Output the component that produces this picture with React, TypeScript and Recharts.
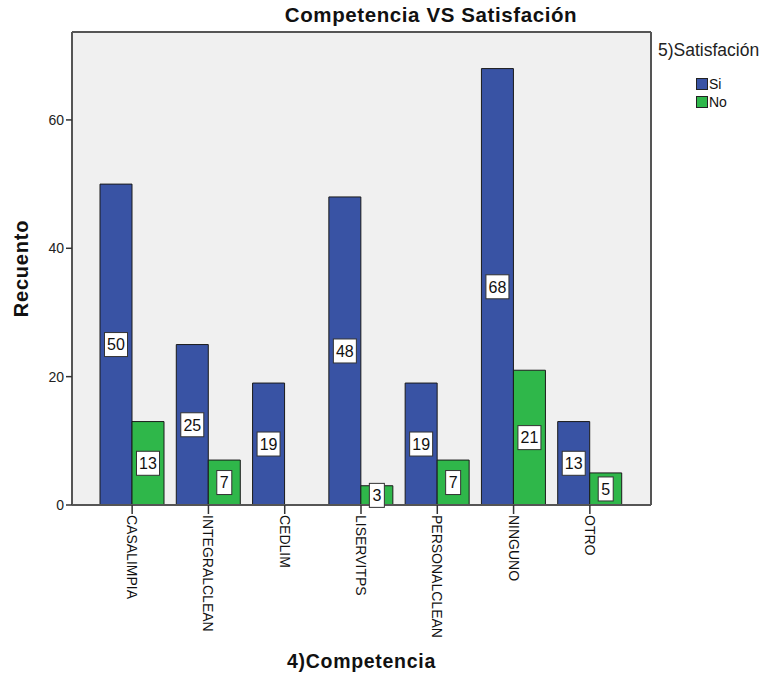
import React from "react";
import { BarChart, Bar, XAxis, YAxis, CartesianGrid, LabelList } from "recharts";

const categories = ["CASALIMPIA", "INTEGRALCLEAN", "CEDLIM", "LISERVITPS", "PERSONALCLEAN", "NINGUNO", "OTRO"];
const siValues = [50, 25, 19, 48, 19, 68, 13];
const noValues = [13, 7, 0, 3, 7, 21, 5];
const yTicks = [0, 20, 40, 60];

const data = categories.map((name, i) => ({
  name,
  si: siValues[i],
  no: noValues[i] > 0 ? noValues[i] : null,
}));

const BLUE = "#3953A4";
const GREEN = "#2FB74A";
const FONT = 'Arial, "Liberation Sans", sans-serif';

// white boxed count label in the middle of each bar
function ValueBox(props: any) {
  const { x, y, width, height, value } = props;
  if (value == null) return null;
  const text = String(value);
  const w = text.length > 1 ? 23 : 15;
  const h = 24;
  const cx = x + width / 2;
  const cy = y + height / 2;
  return (
    <g>
      <rect x={cx - w / 2} y={cy - h / 2} width={w} height={h} fill="#fff" stroke="#333" strokeWidth={1} />
      <text x={cx} y={cy} dy="0.36em" textAnchor="middle" fontSize={16} fontFamily={FONT} fill="#111">
        {text}
      </text>
    </g>
  );
}

function CategoryTick(props: any) {
  const { x, y, payload } = props;
  return (
    <g transform={`translate(${x},${y})`}>
      <text transform="rotate(90)" x={0} y={0} dy="0.36em" textAnchor="start" fontSize={14} fontFamily={FONT} fill="#111">
        {payload.value}
      </text>
    </g>
  );
}

function YLabel(props: any) {
  const { viewBox } = props;
  const cy = viewBox.y + viewBox.height / 2;
  return (
    <text x={21} y={cy} transform={`rotate(-90, 21, ${cy})`} dy="0.36em" textAnchor="middle" fontSize={20} fontWeight={700} fontFamily={FONT} fill="#111" letterSpacing={0.8}>
      Recuento
    </text>
  );
}

export default function App() {
  return (
    <div style={{ position: "absolute", left: 0, top: 0, width: 768, height: 679, background: "#fff", fontFamily: FONT }}>
      <div style={{ position: "absolute", left: 0, width: 862, top: 3, textAlign: "center", fontSize: 20.5, fontWeight: 700, color: "#111", letterSpacing: 0.6 }}>
        Competencia VS Satisfación
      </div>

      <BarChart
        width={768}
        height={679}
        data={data}
        margin={{ top: 32, right: 117, left: 12, bottom: 4 }}
        barGap={0}
        barSize={32}
      >
        <CartesianGrid
          fill="#F0F0F0"
          stroke="#555"
          strokeWidth={2}
          horizontalPoints={[32]}
          verticalPoints={[651]}
        />
        <XAxis
          dataKey="name"
          interval={0}
          padding={{ left: 22, right: 23 }}
          height={170}
          stroke="#555"
          strokeWidth={2}
          tickSize={9}
          tickLine={{ stroke: "#333", strokeWidth: 1.5 }}
          tick={<CategoryTick />}
          tickMargin={1}
          label={{ value: "4)Competencia", position: "insideBottom", offset: 7, fontSize: 19.5, fontWeight: 700, fill: "#111", letterSpacing: 0.7, fontFamily: FONT }}
        />
        <YAxis
          width={60}
          domain={[0, 73.7]}
          ticks={yTicks}
          allowDataOverflow
          stroke="#555"
          strokeWidth={2}
          tickSize={6}
          tickLine={{ stroke: "#333", strokeWidth: 1.5 }}
          tick={{ fontSize: 14, fill: "#222", fontFamily: FONT }}
          label={<YLabel />}
        />
        <Bar dataKey="si" fill={BLUE} stroke="#1a1a1a" strokeWidth={1} isAnimationActive={false}>
          <LabelList dataKey="si" content={<ValueBox />} />
        </Bar>
        <Bar dataKey="no" fill={GREEN} stroke="#1a1a1a" strokeWidth={1} isAnimationActive={false}>
          <LabelList dataKey="no" content={<ValueBox />} />
        </Bar>
      </BarChart>

      <div style={{ position: "absolute", left: 658, top: 40, fontSize: 17.5, color: "#222" }}>5)Satisfación</div>
      <div style={{ position: "absolute", left: 696, top: 75, fontSize: 14, color: "#111", lineHeight: "16px" }}>
        <div style={{ display: "flex", alignItems: "center", height: 18 }}>
          <span style={{ display: "inline-block", width: 10, height: 10, background: BLUE, border: "1px solid #222", marginRight: 1 }} />
          Si
        </div>
        <div style={{ display: "flex", alignItems: "center", height: 18 }}>
          <span style={{ display: "inline-block", width: 10, height: 10, background: GREEN, border: "1px solid #222", marginRight: 1 }} />
          No
        </div>
      </div>
    </div>
  );
}
